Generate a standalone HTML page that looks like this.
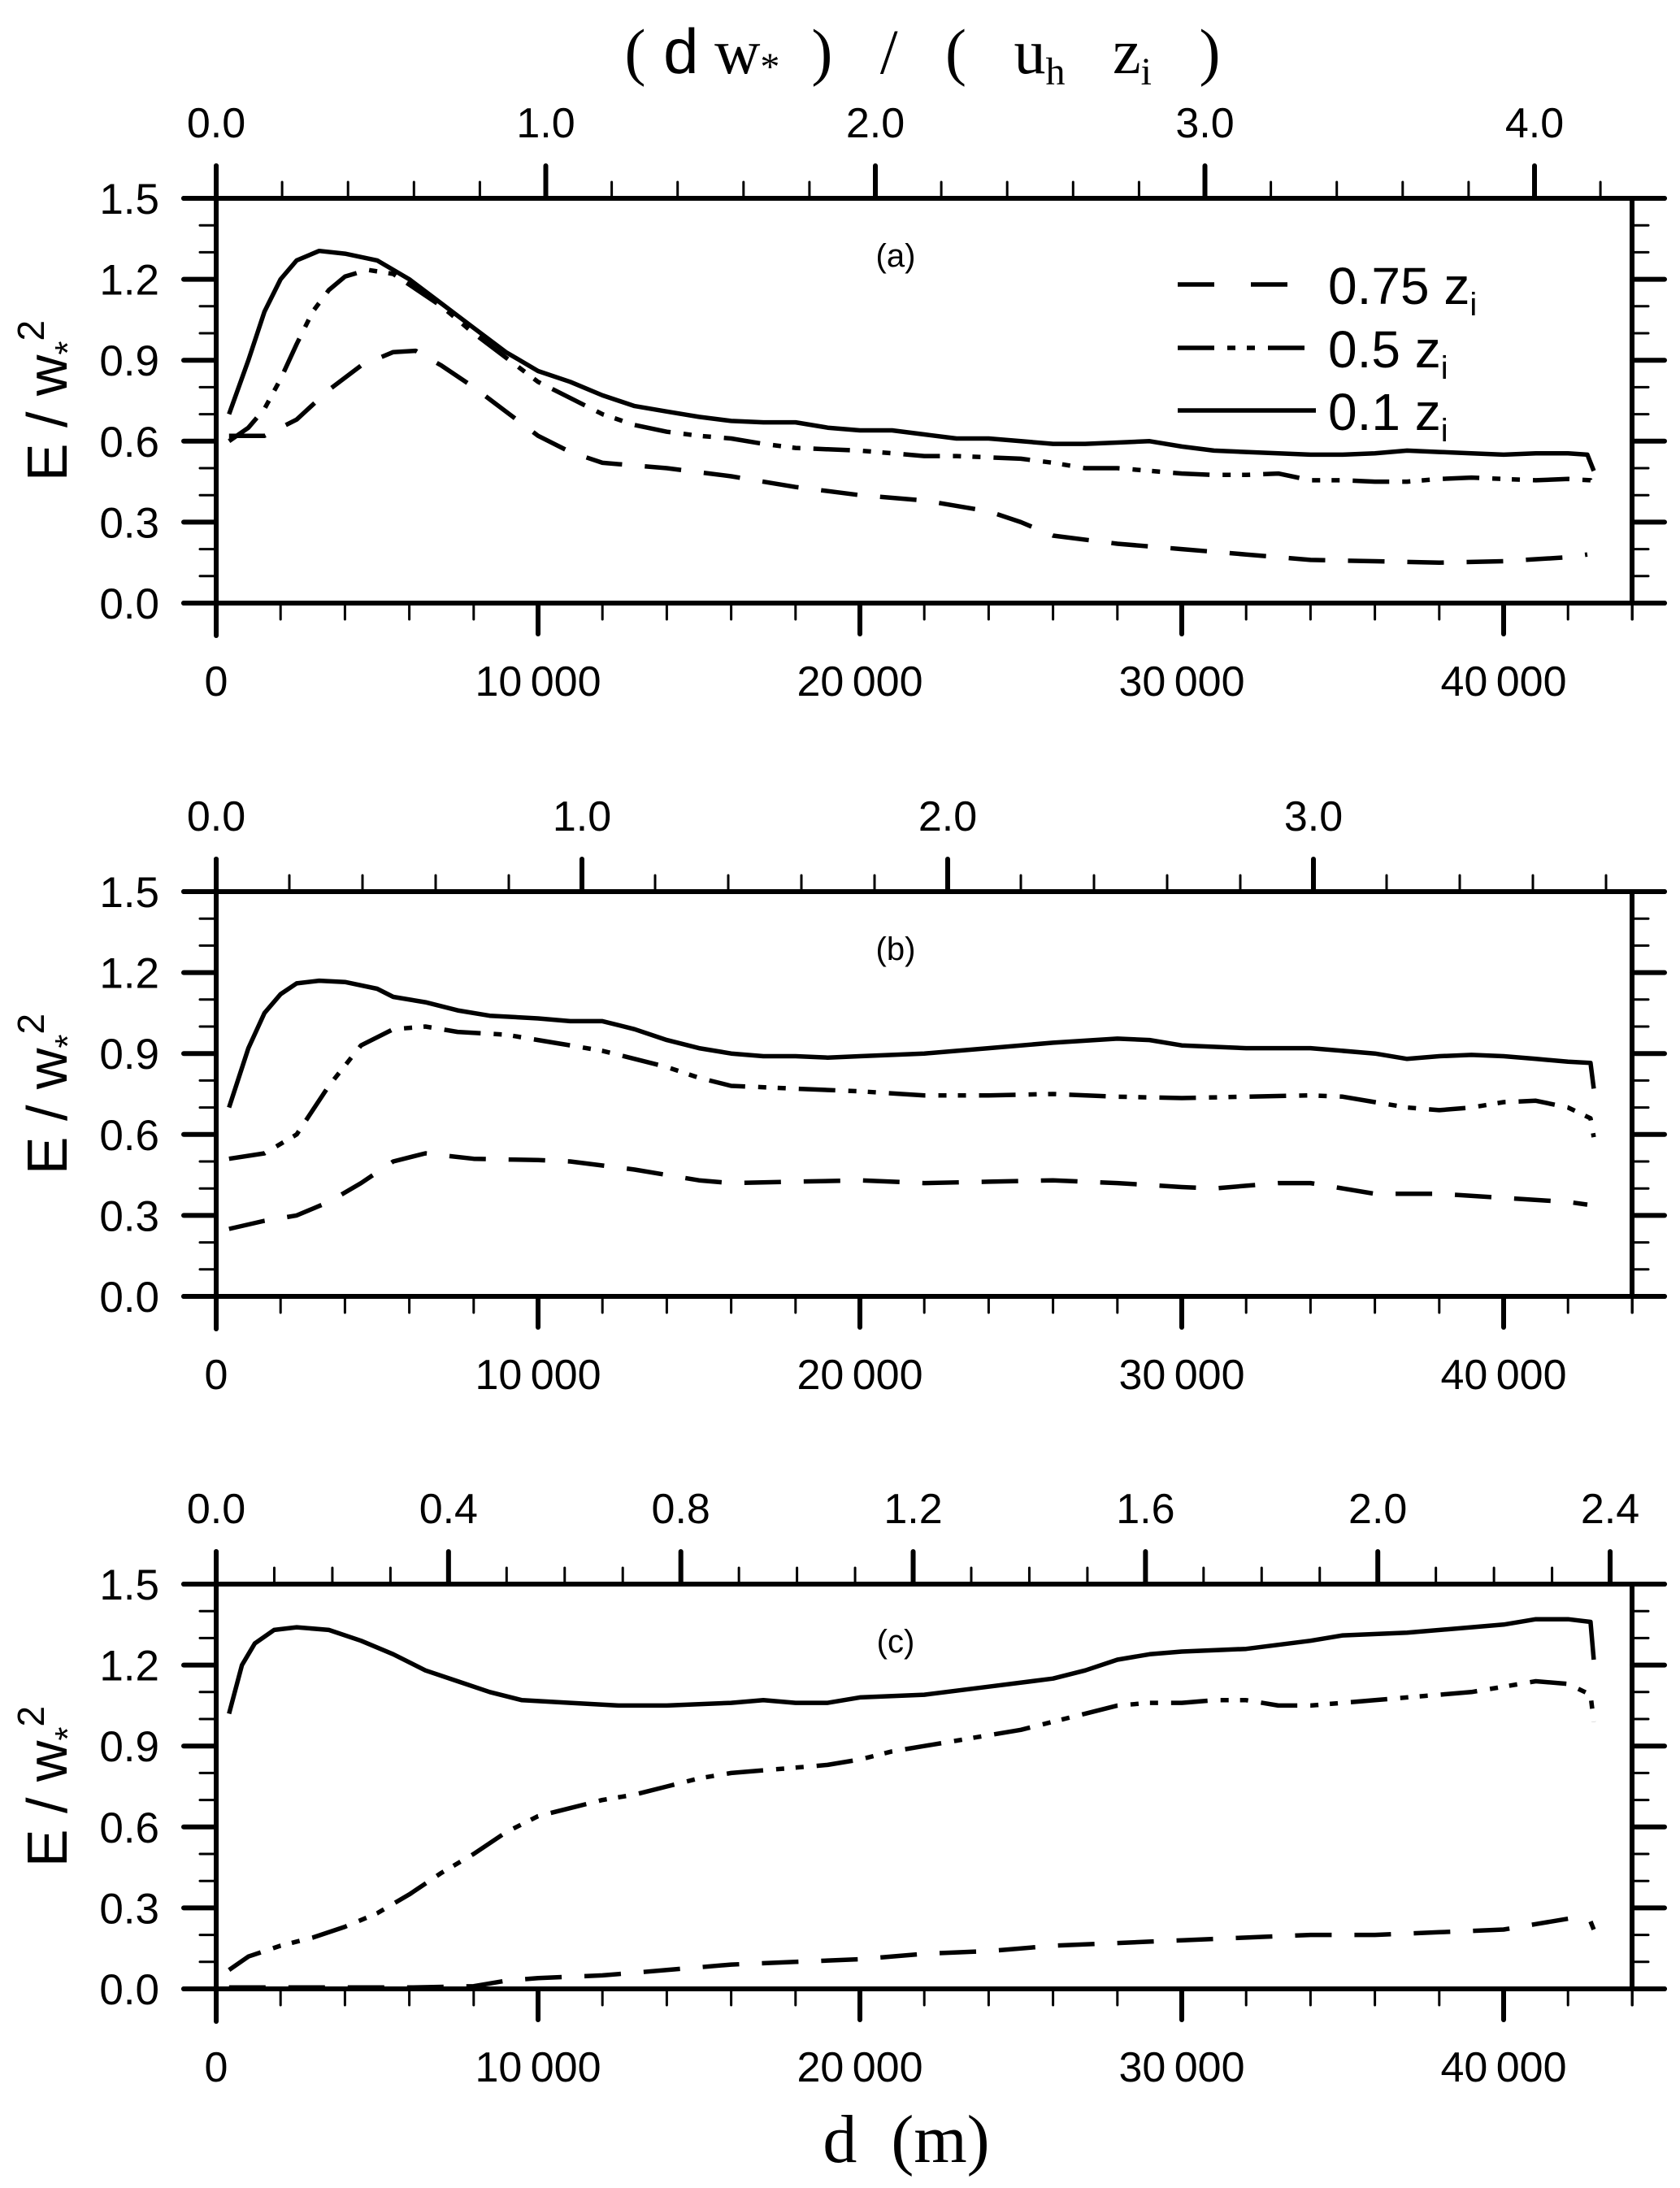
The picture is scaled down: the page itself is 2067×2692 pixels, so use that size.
<!DOCTYPE html>
<html><head><meta charset="utf-8"><style>
html,body{margin:0;padding:0;background:#fff}
svg{display:block}
text{font-family:"Liberation Sans",sans-serif;fill:#000}
</style></head><body>
<svg id="chart" width="2067" height="2692" viewBox="0 0 2067 2692" xmlns="http://www.w3.org/2000/svg">
<text x="1135" y="90" text-anchor="middle" xml:space="preserve" style="font-family:'Liberation Serif',serif;font-size:78px;white-space:pre">(<tspan style="font-family:'Liberation Sans',sans-serif"> d</tspan> w<tspan font-size="48" dy="8">*</tspan><tspan dy="-8">  )   /   (   u</tspan><tspan font-size="48" dy="14">h</tspan><tspan dy="-14">   z</tspan><tspan font-size="48" dy="14">i</tspan><tspan dy="-14">   )</tspan></text>
<text x="1115" y="2660" text-anchor="middle" xml:space="preserve" style="font-family:'Liberation Serif',serif;font-size:84px;white-space:pre">d  (m)</text>
<g id="plots"></g>
</svg>
<script>
// ---- data (x in metres, y in E/w*^2) ----
const a_solid_x=[400,1000,1500,2000,2500,3200,4000,5000,6000,7000,8000,9000,10000,11000,12000,13000,14000,15000,16000,17000,18000,19000,20000,21000,22000,23000,24000,25000,26000,27000,28000,29000,30000,31000,32000,33000,34000,35000,36000,37000,38000,39000,40000,41000,42000,42600,42800];
const a_solid_y=[0.70,0.90,1.08,1.20,1.27,1.305,1.295,1.27,1.20,1.11,1.02,0.93,0.86,0.82,0.77,0.73,0.71,0.69,0.675,0.67,0.67,0.65,0.64,0.64,0.625,0.61,0.61,0.60,0.59,0.59,0.595,0.60,0.58,0.565,0.56,0.555,0.55,0.55,0.555,0.565,0.56,0.555,0.55,0.555,0.555,0.55,0.49];
const a_dd_x=[400,1000,1500,2000,2500,3000,3500,4000,4700,5500,6000,7000,8000,9000,10000,11000,12000,13000,14000,15000,16000,17000,18000,19000,20000,21000,22000,23000,24000,25000,26000,27000,28000,29000,30000,31000,32000,33000,34000,35000,36000,37000,38000,39000,40000,41000,42000,42700,42800];
const a_dd_y=[0.60,0.65,0.72,0.83,0.96,1.08,1.16,1.21,1.235,1.22,1.18,1.10,1.00,0.91,0.82,0.76,0.70,0.66,0.635,0.62,0.61,0.59,0.575,0.57,0.565,0.555,0.545,0.545,0.54,0.535,0.52,0.50,0.50,0.49,0.48,0.475,0.475,0.48,0.455,0.455,0.45,0.45,0.46,0.465,0.46,0.455,0.46,0.455,0.43];
const a_dash_x=[400,1000,1500,2500,3500,4500,5500,6200,7000,8000,9000,10000,11000,12000,14000,16000,18000,20000,22000,24000,25000,26000,28000,30000,32000,34000,36000,38000,40000,42000,42600];
const a_dash_y=[0.62,0.62,0.62,0.68,0.79,0.88,0.93,0.935,0.88,0.80,0.71,0.62,0.56,0.52,0.50,0.47,0.43,0.40,0.38,0.34,0.30,0.25,0.22,0.20,0.18,0.16,0.155,0.15,0.155,0.17,0.18];

const b_solid_x=[400,1000,1500,2000,2500,3200,4000,5000,5500,6500,7500,8500,10000,11000,12000,13000,14000,15000,16000,17000,18000,19000,20000,22000,24000,26000,28000,29000,30000,32000,34000,36000,37000,38000,39000,40000,41000,42000,42700,42800];
const b_solid_y=[0.70,0.92,1.05,1.12,1.16,1.17,1.165,1.14,1.11,1.09,1.06,1.04,1.03,1.02,1.02,0.99,0.95,0.92,0.90,0.89,0.89,0.885,0.89,0.90,0.92,0.94,0.955,0.95,0.93,0.92,0.92,0.90,0.88,0.89,0.895,0.89,0.88,0.87,0.865,0.77];
const b_dd_x=[400,1500,2500,3500,4500,5500,6500,7500,9000,10000,11000,12000,13000,14000,15000,16000,18000,20000,22000,24000,26000,28000,30000,32000,34000,35000,36000,37000,38000,39000,40000,41000,42000,42700,42800];
const b_dd_y=[0.51,0.53,0.60,0.78,0.93,0.99,1.00,0.98,0.97,0.95,0.93,0.91,0.88,0.85,0.81,0.78,0.77,0.76,0.745,0.745,0.75,0.74,0.735,0.74,0.745,0.74,0.72,0.70,0.69,0.70,0.72,0.725,0.70,0.66,0.59];
const b_dash_x=[400,1500,2500,3500,4500,5500,6500,8000,10000,11000,13000,15000,16000,18000,20000,22000,24000,26000,28000,30000,31000,32000,33000,34000,35000,36000,38000,40000,42000,42600];
const b_dash_y=[0.25,0.28,0.30,0.35,0.42,0.50,0.53,0.51,0.505,0.50,0.47,0.43,0.42,0.425,0.43,0.42,0.425,0.43,0.42,0.405,0.40,0.41,0.42,0.42,0.40,0.38,0.38,0.365,0.35,0.34];

const c_solid_x=[400,800,1200,1800,2500,3500,4500,5500,6500,7500,8500,9500,11000,12500,14000,16000,17000,18000,19000,20000,22000,24000,26000,27000,28000,29000,30000,32000,34000,35000,37000,39000,40000,41000,42000,42700,42800];
const c_solid_y=[1.02,1.20,1.28,1.33,1.34,1.33,1.29,1.24,1.18,1.14,1.10,1.07,1.06,1.05,1.05,1.06,1.07,1.06,1.06,1.08,1.09,1.12,1.15,1.18,1.22,1.24,1.25,1.26,1.29,1.31,1.32,1.34,1.35,1.37,1.37,1.36,1.22];
const c_dd_x=[400,1000,2000,3000,4000,5000,6000,7000,8000,9000,10000,11000,12000,13000,14000,15000,16000,17000,18000,19000,20000,21000,22000,23000,24000,25000,26000,27000,28000,29000,30000,31000,32000,33000,34000,35000,36000,37000,38000,39000,40000,41000,42000,42700,42800];
const c_dd_y=[0.07,0.12,0.16,0.19,0.23,0.28,0.35,0.43,0.50,0.58,0.64,0.67,0.70,0.72,0.75,0.78,0.80,0.81,0.82,0.83,0.85,0.88,0.90,0.92,0.94,0.96,0.99,1.02,1.05,1.06,1.06,1.07,1.07,1.05,1.05,1.06,1.07,1.08,1.09,1.10,1.12,1.14,1.13,1.09,0.99];
const c_dash_x=[400,3000,6000,8000,9000,10000,12000,14000,16000,18000,20000,22000,24000,26000,28000,30000,32000,34000,36000,38000,40000,41000,42000,42700,42800];
const c_dash_y=[0.005,0.005,0.005,0.01,0.03,0.04,0.05,0.07,0.09,0.10,0.11,0.13,0.14,0.16,0.17,0.18,0.19,0.20,0.20,0.21,0.22,0.24,0.26,0.25,0.22];

const panelLabels=["(a)","(b)","(c)"];
const topMax=[4.2,3.8,2.4];
const topMajor=[1.0,1.0,0.4];
const topMinor=[0.2,0.2,0.1];
const yTicks=["0.0","0.3","0.6","0.9","1.2","1.5"];
const xTickLabels=["0","10\u2009000","20\u2009000","30\u2009000","40\u2009000"];
const legendLabels=["0.75","0.5","0.1"];

// ---- layout ----
const NS="http://www.w3.org/2000/svg";
const L=266,R=2008,PXM=(1850-266)/40000;
const tops=[244,1097,1949],H=498;
const topUnit=[405.5,450,714.6];
const root=document.getElementById('plots');
function el(tag,attrs,parent){const e=document.createElementNS(NS,tag);for(const k in attrs)e.setAttribute(k,attrs[k]);(parent||root).appendChild(e);return e;}
const xs=v=>L+v*PXM;
const DASH="45 28", DD="45 16 10 14 10 16";
const panels=[
 [[a_dash_x,a_dash_y,DASH],[a_dd_x,a_dd_y,DD],[a_solid_x,a_solid_y,null]],
 [[b_dash_x,b_dash_y,DASH],[b_dd_x,b_dd_y,DD],[b_solid_x,b_solid_y,null]],
 [[c_dash_x,c_dash_y,DASH],[c_dd_x,c_dd_y,DD],[c_solid_x,c_solid_y,null]]];
const names=["dashed-0.75zi","dashdot-0.5zi","solid-0.1zi"];

panels.forEach((series,p)=>{
 const T=tops[p],B=T+H;
 const ys=v=>B-v/1.5*H;
 const g=el('g',{});
 
 
 const line=(x1,y1,x2,y2,w)=>el('line',{x1,y1,x2,y2,stroke:'#000','stroke-width':w,'stroke-linecap':'round'},g);
 line(L-40,T,2048,T,6); line(L-40,B,2048,B,6);
 line(L,T-40,L,B+40,6); line(R,T,R,B,6);
 line(R,B,R,B+20,3);
 for(let i=0;i<=15;i++){const y=B-i/15*H;const maj=i%3===0;
  line(L-(maj?40:20),y,L,y,maj?6:3); line(R,y,R+(maj?40:20),y,maj?6:3);}
 yTicks.forEach((t,i)=>{const tx=el('text',{x:196,y:ys(+t)+19,'text-anchor':'end','font-size':53},g);tx.textContent=t;
  
  });
 for(let m=0;m<=44000;m+=2000){const x=xs(m);const maj=m%10000===0;line(x,B,x,B+(maj?38:20),maj?6:3);}
 xTickLabels.forEach((t,i)=>{const tx=el('text',{x:xs(i*10000),y:B+114,'text-anchor':'middle','font-size':52},g);tx.textContent=t;
  
  });
 const n=Math.round(topMax[p]/topMinor[p]);
 const per=Math.round(topMajor[p]/topMinor[p]);
 for(let i=0;i<=n;i++){const x=L+i*topMinor[p]*topUnit[p];const maj=i%per===0;line(x,T,x,T-(maj?40:20),maj?6:3);
  if(maj){const tx=el('text',{x:x,y:T-75,'text-anchor':'middle','font-size':52},g);tx.textContent=(i*topMinor[p]).toFixed(1);
   
   }}
 const yt=el('text',{transform:`translate(82,${T+H/2}) rotate(-90)`,'text-anchor':'middle','font-size':70},g);
 
 
 yt.innerHTML='E / w<tspan font-size="44" dy="16">*</tspan><tspan font-size="46" dy="-44">2</tspan>';
 const pl=el('text',{x:1102,y:T+84,'text-anchor':'middle','font-size':40},g);pl.textContent=panelLabels[p];
 
 
 series.forEach(([X,Y,d],k)=>{
  const pts=X.map((v,i)=>xs(v).toFixed(1)+','+ys(Y[i]).toFixed(1)).join(' ');
  const pl2=el('polyline',{points:pts,fill:'none',stroke:'#000','stroke-width':5.5,'stroke-linejoin':'round'},g);
  if(d)pl2.setAttribute('stroke-dasharray',d);
  
  
 });
 if(p===0){
  const lg=el('g',{},g);
  
  
  const rows=[350,428,505],dashes=["45 45",DD,null];
  rows.forEach((y,k)=>{
   const ln=el('line',{x1:1449,y1:y,x2:1619,y2:y,stroke:'#000','stroke-width':5.5},lg);
   if(dashes[k])ln.setAttribute('stroke-dasharray',dashes[k]);
   
   
   const t=el('text',{x:1634,y:y+24,'font-size':64},lg);
   t.innerHTML=legendLabels[k]+' z<tspan font-size="40" dy="14">i</tspan>';
   
   
  });
 }
});
</script>
</body></html>
